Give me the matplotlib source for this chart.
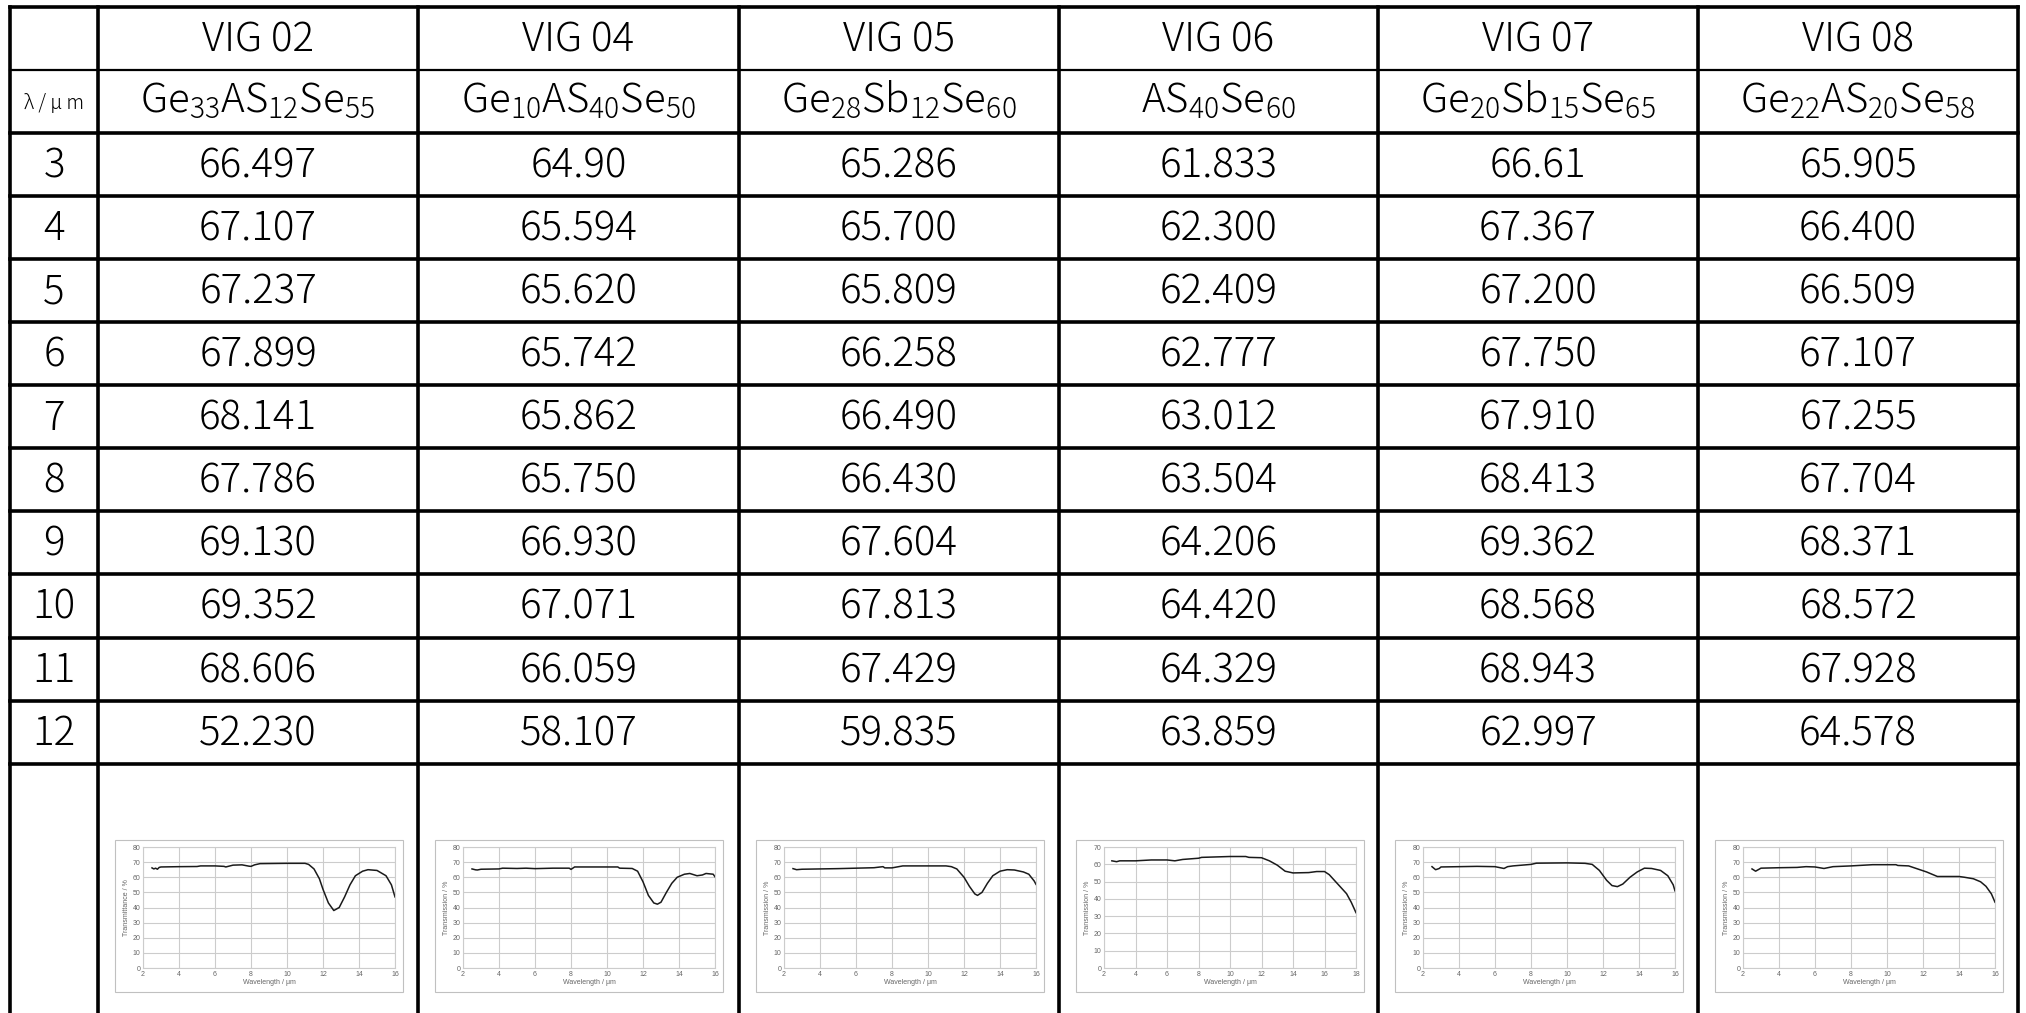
import matplotlib
matplotlib.use("Agg")
import matplotlib.pyplot as plt
from matplotlib.patches import Rectangle

plt.rcParams['font.family'] = ['Noto Sans CJK JP', 'DejaVu Sans']
plt.rcParams['font.weight'] = 'light'
plt.rcParams['mathtext.fontset'] = 'custom'
plt.rcParams['mathtext.rm'] = 'Noto Sans CJK JP:light'

# ---- table data ----
samples = ["VIG 02", "VIG 04", "VIG 05", "VIG 06", "VIG 07", "VIG 08"]
formulas = [r"$\mathrm{Ge_{33}AS_{12}Se_{55}}$", r"$\mathrm{Ge_{10}AS_{40}Se_{50}}$",
            r"$\mathrm{Ge_{28}Sb_{12}Se_{60}}$", r"$\mathrm{AS_{40}Se_{60}}$",
            r"$\mathrm{Ge_{20}Sb_{15}Se_{65}}$", r"$\mathrm{Ge_{22}AS_{20}Se_{58}}$"]
wavelengths = ["3", "4", "5", "6", "7", "8", "9", "10", "11", "12"]
vig02 = ["66.497", "67.107", "67.237", "67.899", "68.141", "67.786", "69.130", "69.352", "68.606", "52.230"]
vig04 = ["64.90", "65.594", "65.620", "65.742", "65.862", "65.750", "66.930", "67.071", "66.059", "58.107"]
vig05 = ["65.286", "65.700", "65.809", "66.258", "66.490", "66.430", "67.604", "67.813", "67.429", "59.835"]
vig06 = ["61.833", "62.300", "62.409", "62.777", "63.012", "63.504", "64.206", "64.420", "64.329", "63.859"]
vig07 = ["66.61", "67.367", "67.200", "67.750", "67.910", "68.413", "69.362", "68.568", "68.943", "62.997"]
vig08 = ["65.905", "66.400", "66.509", "67.107", "67.255", "67.704", "68.371", "68.572", "67.928", "64.578"]
columns = [vig02, vig04, vig05, vig06, vig07, vig08]

# ---- spectra ----
wl02 = [2.5, 2.6, 2.7, 2.8, 2.9, 3.0, 4, 5, 5.2, 6, 6.5, 6.6, 7, 7.5, 7.9, 8.0, 8.2, 8.5, 10, 11, 11.2, 11.5, 11.8,
        12.0, 12.3, 12.6, 12.9, 13.2, 13.5, 13.8, 14.2, 14.5, 15.0, 15.5, 15.8, 16.0]
tr02 = [66.2, 65.5, 66.0, 65.3, 66.5, 66.8, 67.0, 67.1, 67.5, 67.5, 67.2, 66.8, 68.0, 68.2, 67.3, 67.2, 68.2, 69.0, 69.2,
        69.2, 68.5, 65.5, 59.0, 52.0, 43.0, 38.0, 40.0, 47.0, 55.0, 61.0, 64.0, 65.0, 64.5, 61.0, 55.0, 47.0]

wl04 = [2.5, 2.7, 2.8, 3.0, 4, 4.2, 5, 5.5, 6, 7, 7.9, 8.0, 8.2, 10.6, 10.7, 11.4, 11.7, 12.0, 12.3, 12.6, 12.8, 13.0,
        13.3, 13.6, 13.9, 14.3, 14.6, 15.0, 15.3, 15.5, 15.9, 16.0]
tr04 = [65.5, 64.9, 64.8, 65.3, 65.5, 66.0, 65.8, 66.0, 65.7, 66.0, 66.0, 65.2, 66.8, 66.8, 66.0, 65.8, 64.0, 57.0, 48.0,
        43.0, 42.2, 43.5, 50.0, 56.0, 60.0, 62.0, 62.5, 61.0, 61.5, 62.5, 62.0, 60.3]

wl05 = [2.5, 2.7, 3.0, 4, 5, 6, 7, 7.5, 7.6, 8.0, 8.6, 11.0, 11.3, 11.6, 12.0, 12.3, 12.6, 12.75, 13.0, 13.3, 13.6, 14.0,
        14.4, 14.8, 15.3, 15.6, 15.9, 16.0]
tr05 = [65.7, 65.0, 65.3, 65.5, 65.7, 66.0, 66.3, 67.0, 66.2, 66.2, 67.5, 67.5, 67.0, 65.5, 60.0, 54.0, 49.0, 48.0, 50.0,
        56.0, 61.0, 64.0, 65.0, 64.8, 63.5, 62.0, 57.5, 55.3]

wl06 = [2.5, 2.8, 3.0, 4, 5, 6, 6.5, 7, 8, 8.2, 10, 11, 11.2, 12.0, 12.5, 13.0, 13.5, 14.0, 15.0, 15.5, 16.0, 16.3,
        16.7, 17.0, 17.4, 17.7, 18.0]
tr06 = [62.0, 61.5, 62.0, 62.0, 62.5, 62.5, 62.0, 62.8, 63.5, 64.0, 64.5, 64.5, 64.0, 63.8, 62.0, 59.5, 56.0, 55.0, 55.2,
        55.8, 55.8, 54.0, 50.0, 47.0, 43.0, 38.0, 32.0]

wl07 = [2.5, 2.7, 2.9, 3.0, 4, 5, 6, 6.5, 6.7, 7, 8, 8.3, 10, 11, 11.4, 11.8, 12.2, 12.5, 12.8, 13.1, 13.5, 13.9, 14.3,
        14.7, 15.2, 15.6, 15.9, 16.0]
tr07 = [67.0, 65.0, 65.8, 66.8, 67.0, 67.2, 67.0, 65.8, 67.0, 67.5, 68.5, 69.3, 69.5, 69.2, 68.5, 64.5, 58.0, 54.5, 53.8,
        55.5, 60.0, 63.5, 66.0, 65.8, 64.5, 61.0, 55.0, 51.0]

wl08 = [2.5, 2.7, 3.0, 4, 5, 5.5, 6, 6.5, 7, 8, 9.2, 10.5, 10.6, 11.2, 11.7, 12.2, 12.8, 14.0, 14.3, 14.8, 15.2, 15.5,
        15.8, 16.0]
tr08 = [65.5, 64.0, 66.0, 66.3, 66.5, 67.0, 66.8, 65.8, 67.0, 67.5, 68.3, 68.3, 67.8, 67.5, 65.5, 63.5, 60.5, 60.5, 60.0,
        59.0, 57.0, 54.0, 49.0, 43.5]

spectra = [(wl02, tr02), (wl04, tr04), (wl05, tr05), (wl06, tr06), (wl07, tr07), (wl08, tr08)]
ylabels = ["Transmittance / %"] + ["Transmission / %"] * 5
ymax = [80, 80, 80, 70, 80, 80]
xmax = [16, 16, 16, 18, 16, 16]

# ---- layout (pixels) ----
W, H = 2026, 1013
col_x = [10, 98, 418, 739, 1059, 1378, 1698, 2018]
row_h = 63.1
row_y = [6.5 + row_h * i for i in range(13)]

fig = plt.figure(figsize=(W / 100, H / 100), dpi=100)
ax = fig.add_axes([0, 0, 1, 1])
ax.set_xlim(0, W)
ax.set_ylim(H, 0)
ax.axis('off')

# grid lines of the table
for i, y in enumerate(row_y):
    lw = 1.6 if i == 1 else 2.6
    ax.plot([col_x[0], col_x[-1]], [y, y], color='black', lw=lw, solid_capstyle='projecting')
for x in col_x:
    ax.plot([x, x], [row_y[0], H + 5], color='black', lw=2.6, solid_capstyle='projecting')

def cx(c):
    return (col_x[c] + col_x[c + 1]) / 2

def cy(r):
    return (row_y[r] + row_y[r + 1]) / 2 + 2

fs = 29
ax.text(cx(0), cy(1), "λ / μ m", ha='center', va='center', fontsize=14)
for j, s in enumerate(samples):
    ax.text(cx(j + 1), cy(0), s, ha='center', va='center', fontsize=fs)
    ax.text(cx(j + 1), cy(1) - 2, formulas[j], ha='center', va='center', fontsize=fs)
for i, w in enumerate(wavelengths):
    ax.text(cx(0), cy(i + 2), w, ha='center', va='center', fontsize=fs)
    for j, col in enumerate(columns):
        ax.text(cx(j + 1), cy(i + 2), col[i], ha='center', va='center', fontsize=fs)

# ---- small spectrum charts in the last row ----
for j, (wl, tr) in enumerate(spectra):
    fx0 = col_x[j + 1] + 17
    fx1 = fx0 + 288
    fy0, fy1 = 840, 992
    ax.add_patch(Rectangle((fx0, fy0), fx1 - fx0, fy1 - fy0, fill=False, ec='#c0c0c0', lw=0.8))
    px0, px1 = fx0 + 28, fx1 - 8
    py0, py1 = fy0 + 7, fy1 - 24
    sub = fig.add_axes([px0 / W, 1 - py1 / H, (px1 - px0) / W, (py1 - py0) / H])
    sub.plot(wl, tr, color='#1a1a1a', lw=1.1)
    sub.set_xlim(2, xmax[j])
    sub.set_ylim(0, ymax[j])
    sub.set_xticks(range(2, xmax[j] + 1, 2))
    sub.set_yticks(range(0, ymax[j] + 1, 10))
    sub.grid(True, color='#cccccc', lw=0.8)
    sub.set_axisbelow(True)
    for sp in sub.spines.values():
        sp.set_color('#cccccc')
        sp.set_linewidth(0.8)
    sub.tick_params(length=0, labelsize=5, labelcolor='#666666', pad=2)
    for lab in sub.get_xticklabels() + sub.get_yticklabels():
        lab.set_family('Liberation Sans')
        lab.set_weight('normal')
    sub.set_xlabel("Wavelength / μm", fontsize=5, color='#666666', labelpad=1,
                   family='Liberation Sans', weight='normal')
    sub.set_ylabel(ylabels[j], fontsize=5, color='#666666', labelpad=2,
                   family='Liberation Sans', weight='normal')

fig.savefig("out.png", dpi=100)
